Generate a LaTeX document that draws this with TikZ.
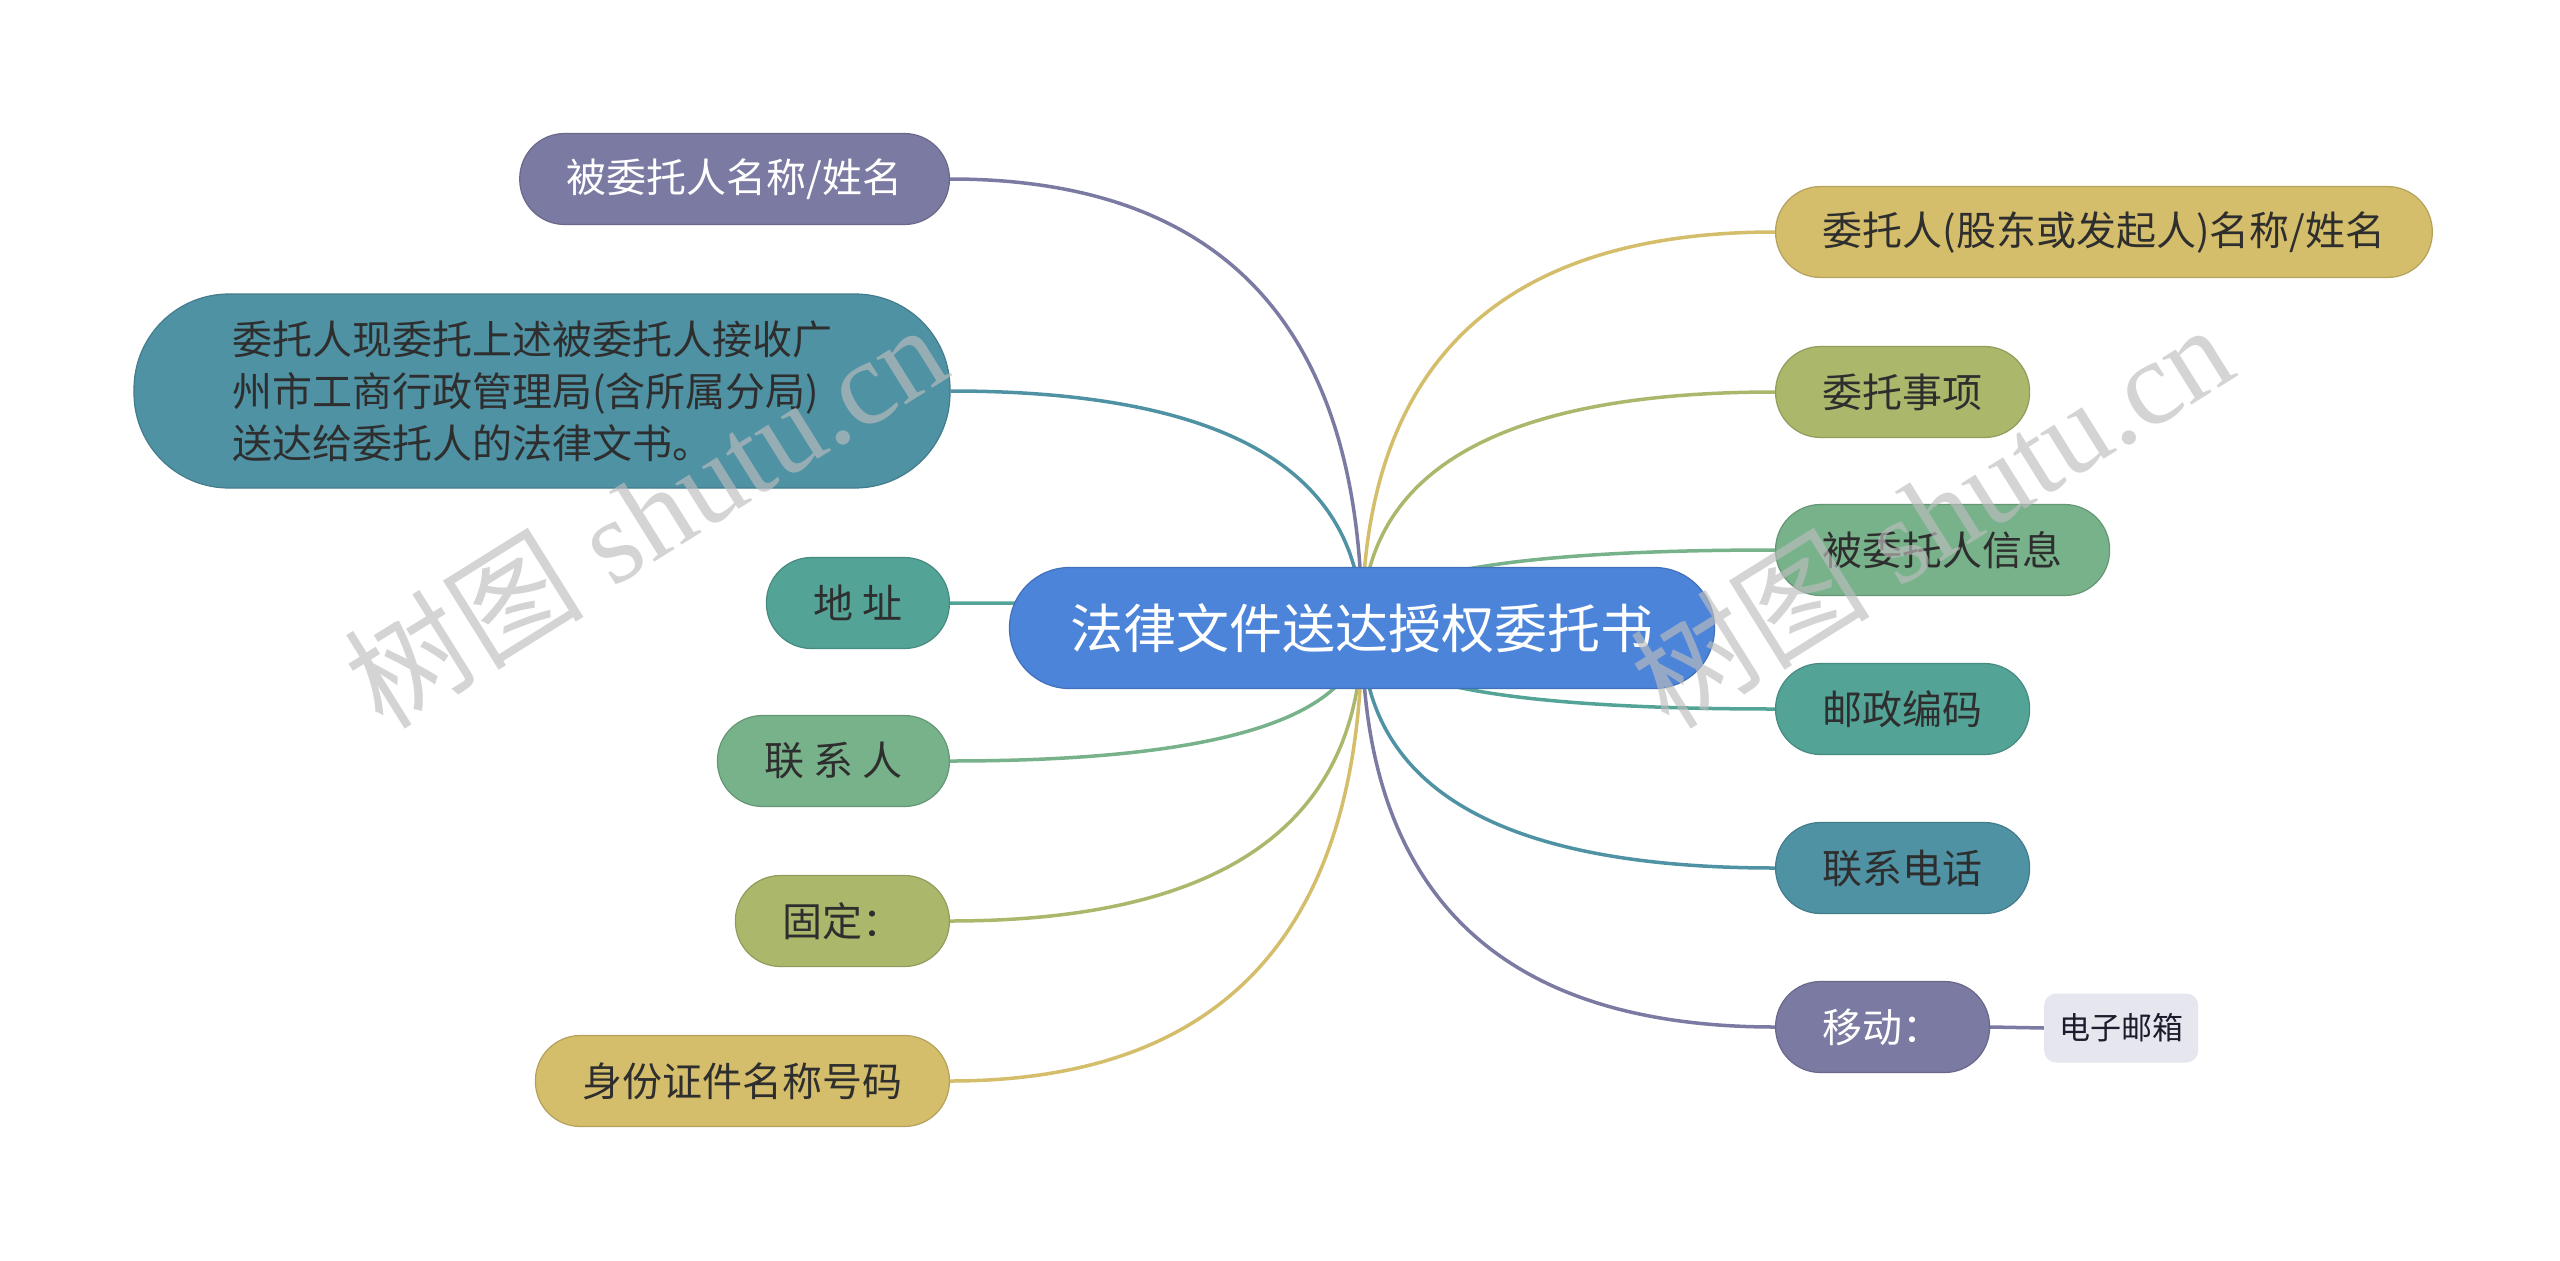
\documentclass[tikz,border=0pt]{standalone}
\usepackage{fontspec}
\newfontfamily\cjk{Noto Sans CJK SC}
\newfontfamily\wmserif{Liberation Serif}
\usetikzlibrary{calc,backgrounds}
\definecolor{cpurple}{HTML}{7B7AA2}
\definecolor{cteal}{HTML}{4F92A4}
\definecolor{ctealgreen}{HTML}{53A397}
\definecolor{cgreen}{HTML}{77B28A}
\definecolor{colive}{HTML}{ABB86C}
\definecolor{cgold}{HTML}{D4BE6B}
\definecolor{cblue}{HTML}{4C84DA}
\definecolor{cgrey}{HTML}{E5E6EE}
\definecolor{ctext}{HTML}{2E2E2E}
\definecolor{cleaf}{HTML}{1C1C2C}
\definecolor{cwm}{HTML}{BDBDBD}
\tikzset{
  topic/.style={fill=#1, draw=#1!85!black, line width=1.2pt, rounded corners=45pt,
    minimum height=91pt, inner xsep=47pt, inner ysep=0pt,
    font=\cjk\fontsize{40}{48}\selectfont, text=ctext},
  rootnode/.style={fill=cblue, draw=cblue!85!black, line width=1.2pt, rounded corners=60pt,
    minimum height=121pt, inner xsep=61pt, inner ysep=0pt,
    font=\cjk\fontsize{53}{60}\selectfont, text=white},
  leaf/.style={fill=cgrey, rounded corners=12pt, minimum height=69pt, inner xsep=15pt,
    inner ysep=0pt, font=\cjk\fontsize{31}{36}\selectfont, text=cleaf},
  link/.style={line width=3.5pt, draw=#1},
  wm/.style={text=cwm, opacity=0.65, rotate=32, inner sep=0pt}
}
\newcommand\mmconn[3]{\draw[link=#3] (root.center) .. controls ($(root.center)!0.6667!(root.center|-#1.#2)$) and ($(#1.#2)!0.6667!(root.center|-#1.#2)$) .. (#1.#2);}
\begin{document}
\begin{tikzpicture}[x=1pt,y=-1pt]
\useasboundingbox (0,0) rectangle (2560,1261);

\node[rootnode] (root) at (1362,628) {法律文件送达授权委托书};

% left
\node[topic=cpurple, text=white, anchor=east] (l1) at (950,179) {被委托人名称/姓名};
\node[topic=cteal, anchor=center, rounded corners=95pt, minimum height=194pt,
      inner xsep=98pt, text width=620pt, align=left,
      font=\cjk\fontsize{40}{52}\selectfont] (l2) at (542,391)
      {委托人现委托上述被委托人接收广\\州市工商行政管理局(含所属分局)\\送达给委托人的法律文书。};
\node[topic=ctealgreen, anchor=east] (l3) at (950,603) {地 址};
\node[topic=cgreen, anchor=east] (l4) at (950,761) {联 系 人};
\node[topic=colive, anchor=east] (l5) at (950,921) {固定：};
\node[topic=cgold, anchor=east] (l6) at (950,1081) {身份证件名称号码};

% right
\node[topic=cgold, anchor=west] (r1) at (1775,232) {委托人(股东或发起人)名称/姓名};
\node[topic=colive, anchor=west] (r2) at (1775,392) {委托事项};
\node[topic=cgreen, anchor=west] (r3) at (1775,550) {被委托人信息};
\node[topic=ctealgreen, anchor=west] (r4) at (1775,709) {邮政编码};
\node[topic=cteal, anchor=west] (r5) at (1775,868) {联系电话};
\node[topic=cpurple, text=white, anchor=west] (r6) at (1775,1027) {移动：};
\node[leaf, anchor=west] (e1) at (2044,1028) {电子邮箱};

\begin{pgfonlayer}{background}
\fill[white] (0,0) rectangle (2560,1261);
\mmconn{l1}{east}{cpurple}
\mmconn{l2}{east}{cteal}
\mmconn{l3}{east}{ctealgreen}
\mmconn{l4}{east}{cgreen}
\mmconn{l5}{east}{colive}
\mmconn{l6}{east}{cgold}
\mmconn{r1}{west}{cgold}
\mmconn{r2}{west}{colive}
\mmconn{r3}{west}{cgreen}
\mmconn{r4}{west}{ctealgreen}
\mmconn{r5}{west}{cteal}
\mmconn{r6}{west}{cpurple}
\draw[link=cpurple] (r6.east) -- (e1.west);
\end{pgfonlayer}

% watermarks
\node[wm] (wm1) at (645,514) {{\cjk\fontsize{120}{120}\selectfont 树图}{\wmserif\fontsize{120}{120}\selectfont\ shutu.cn}};
\node[wm] (wm2) at (1931,514) {{\cjk\fontsize{120}{120}\selectfont 树图}{\wmserif\fontsize{120}{120}\selectfont\ shutu.cn}};
\end{tikzpicture}
\end{document}
